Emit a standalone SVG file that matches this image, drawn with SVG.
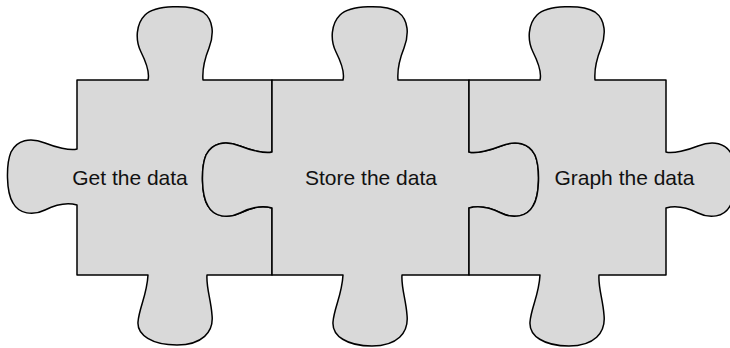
<svg xmlns="http://www.w3.org/2000/svg" width="730" height="348" viewBox="0 0 730 348">
<style>
.piece{fill:#d9d9d9;stroke:#000;stroke-width:1.5;stroke-linejoin:round}
.label{font-family:"Liberation Sans",Arial,Helvetica,sans-serif;font-size:21px;fill:#111;text-anchor:middle}
</style>
<rect width="730" height="348" fill="#fff"/>
<g id="piece-get">
<path class="piece" d="M77,80 L148,80 C150,72 146,62 141,52 C135,40 136,24 145,15 C155,5 190,4 203,12 C214,20 214,35 209,48 C205,58 202,68 203,80 L272,80 L272,152 C265,154 250,150 240,146 C225,140 212,143 206,155 C201,167 201,195 208,206 C214,217 228,219 240,213 C252,207 262,205 272,208 L272,275 L207,275 C206,287 211,300 212,315 C214,332 202,345 177,345 C152,345 137,335 138,322 C139,308 147,295 148,275 L77,275 L77,205 C67,202 57,204 45,210 C33,216 19,214 13,203 C6,192 6,164 11,152 C17,140 30,137 45,143 C55,147 70,151 77,149 Z"/>
<text class="label" x="130" y="185">Get the data</text>
</g>
<g id="piece-store">
<path class="piece" d="M272,80 L343,80 C345,72 341,62 336,52 C330,40 331,24 340,15 C350,5 385,4 398,12 C409,20 409,35 404,48 C400,58 397,68 398,80 L469,80 L469,152 C476,154 491,150 501,146 C516,140 529,143 535,155 C540,167 540,195 533,206 C527,217 513,219 501,213 C489,207 479,205 469,208 L469,275 L402,275 C401,287 406,300 407,315 C409,333 397,346 372,346 C347,346 332,336 333,322 C334,308 342,295 343,275 L272,275 L272,208 C262,205 252,207 240,213 C228,219 214,217 208,206 C201,195 201,167 206,155 C212,143 225,140 240,146 C250,150 265,154 272,152 Z"/>
<text class="label" x="371" y="185">Store the data</text>
</g>
<g id="piece-graph">
<path class="piece" d="M469,80 L540,80 C542,72 538,62 533,52 C527,40 528,24 537,15 C547,5 582,4 595,12 C606,20 606,35 601,48 C597,58 594,68 595,80 L666,80 L666,152 C673,154 688,150 698,146 C713,140 726,143 732,155 C737,167 737,195 730,206 C724,217 710,219 698,213 C686,207 676,205 666,208 L666,275 L599,275 C598,287 603,300 604,315 C606,333 594,346 569,346 C544,346 529,336 530,322 C531,308 539,295 540,275 L469,275 L469,208 C479,205 489,207 501,213 C513,219 527,217 533,206 C540,195 540,167 535,155 C529,143 516,140 501,146 C491,150 476,154 469,152 Z"/>
<text class="label" x="624.5" y="185">Graph the data</text>
</g>
<g id="connectors"></g>
</svg>
